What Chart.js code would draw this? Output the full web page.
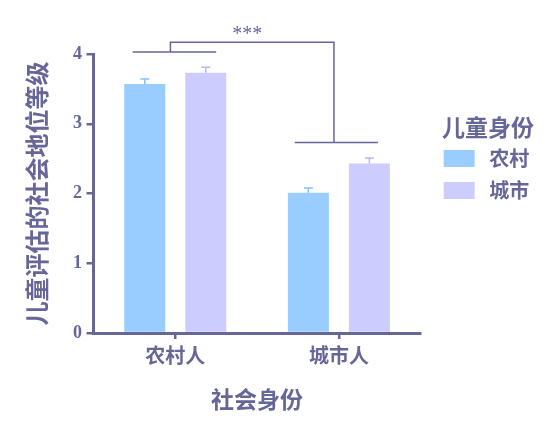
<!DOCTYPE html>
<html>
<head>
<meta charset="utf-8">
<script src="https://cdn.jsdelivr.net/npm/chart.js@4.4.0/dist/chart.umd.min.js"></script>
<style>body{margin:0;background:#fff}</style>
</head>
<body>
<canvas id="myChart" width="556" height="433"></canvas>
<script>
// data
var categories = ["农村人", "城市人"];
var groups = ["农村", "城市"];
var ruralMeans = [3.57, 2.01];
var ruralErr = [0.07, 0.07];
var urbanMeans = [3.73, 2.43];
var urbanErr = [0.08, 0.08];
var yTicks = [0, 1, 2, 3, 4];

// significance bracket, in axis units (category index, value)
var brackets = [
	[[-0.26, 4.03], [0.25, 4.03]],
	[[-0.03, 4.03], [-0.03, 4.17], [0.97, 4.17], [0.97, 2.73]],
	[[0.73, 2.73], [1.24, 2.73]]
];
var sigMark = {x: 0.44, y: 4.28, text: "***"};

var ink = "#666699";
var cjk = '"Noto Sans CJK SC", sans-serif';
Chart.defaults.font.family = cjk;

var errorBars = {
	id: 'errorBars',
	afterDatasetsDraw: function(chart) {
		var ctx = chart.ctx, y = chart.scales.y;
		chart.data.datasets.forEach(function(ds, i) {
			chart.getDatasetMeta(i).data.forEach(function(bar, j) {
				var top = y.getPixelForValue(ds.data[j] + ds.errors[j]);
				ctx.save();
				ctx.strokeStyle = ds.errorColor;
				ctx.lineWidth = 1.5;
				ctx.beginPath();
				ctx.moveTo(bar.x, bar.y);
				ctx.lineTo(bar.x, top);
				ctx.moveTo(bar.x - 4.5, top);
				ctx.lineTo(bar.x + 4.5, top);
				ctx.stroke();
				ctx.restore();
			});
		});
	}
};

var sigBracket = {
	id: 'sigBracket',
	afterDraw: function(chart) {
		var ctx = chart.ctx, x = chart.scales.x, y = chart.scales.y;
		ctx.save();
		ctx.strokeStyle = ink;
		ctx.lineWidth = 1.5;
		brackets.forEach(function(path) {
			ctx.beginPath();
			path.forEach(function(p, k) {
				var px = x.getPixelForValue(p[0]), py = y.getPixelForValue(p[1]);
				if (k == 0) ctx.moveTo(px, py); else ctx.lineTo(px, py);
			});
			ctx.stroke();
		});
		ctx.fillStyle = ink;
		ctx.font = '20px "Liberation Serif"';
		ctx.textAlign = 'center';
		ctx.textBaseline = 'middle';
		ctx.fillText(sigMark.text, x.getPixelForValue(sigMark.x), y.getPixelForValue(sigMark.y));
		ctx.restore();
	}
};

// give the legend a little more room on its left side
var wideLegend = {
	id: 'wideLegend',
	beforeLayout: function(chart) {
		var lg = chart.legend;
		if (!lg || lg._wide) return;
		var fit = lg.fit;
		lg.fit = function() {
			fit.apply(this, arguments);
			this.width += 15;
		};
		lg._wide = true;
	}
};

var ctx = document.getElementById('myChart').getContext('2d');
new Chart(ctx, {
	type: 'bar',
	data: {
		labels: categories,
		datasets: [
			{label: groups[0], data: ruralMeans, errors: ruralErr, backgroundColor: '#99CCFF', errorColor: '#85BFFF', borderWidth: 0},
			{label: groups[1], data: urbanMeans, errors: urbanErr, backgroundColor: '#CCCCFF', errorColor: '#B5B5FA', borderWidth: 0}
		]
	},
	options: {
		responsive: false,
		animation: false,
		barPercentage: 0.672,
		categoryPercentage: 0.746,
		layout: {padding: {top: 54, left: 10, right: 22, bottom: 0}},
		scales: {
			x: {
				grid: {drawOnChartArea: false, drawTicks: true, tickLength: 6, offset: false, color: ink, lineWidth: 2.5},
				border: {color: ink, width: 3},
				ticks: {color: ink, padding: 4, font: {size: 20, weight: 'bold'}},
				title: {display: true, text: '社会身份', color: ink, font: {size: 23, weight: 'bold'}, padding: {top: 14.2, bottom: 20.2}}
			},
			y: {
				min: 0,
				max: 4,
				afterBuildTicks: function(s) { s.ticks = yTicks.map(function(v) { return {value: v}; }); },
				grid: {drawOnChartArea: false, tickLength: 7, color: ink, lineWidth: 2.5},
				border: {color: ink, width: 3},
				ticks: {color: ink, padding: 4.5, font: {family: '"Liberation Serif"', size: 18, weight: 'bold'}},
				title: {display: true, text: '儿童评估的社会地位等级', color: ink, font: {size: 24, weight: 'bold'}, padding: {top: 12.6, bottom: 17.1}}
			},
			yR: {
				type: 'linear',
				position: 'right',
				ticks: {display: false},
				grid: {display: false},
				border: {display: false},
				afterFit: function(s) { s.width = 11; }
			}
		},
		plugins: {
			tooltip: {enabled: false},
			legend: {
				position: 'right',
				align: 'start',
				title: {display: true, text: '儿童身份', color: ink, position: 'end', font: {size: 23, weight: 'bold'}, padding: {top: 61.5, bottom: -6.6}},
				labels: {boxWidth: 31, boxHeight: 17, padding: 12, color: ink, textAlign: 'center', font: {size: 20, weight: 'bold'}}
			}
		}
	},
	plugins: [errorBars, sigBracket, wideLegend]
});
</script>
</body>
</html>
